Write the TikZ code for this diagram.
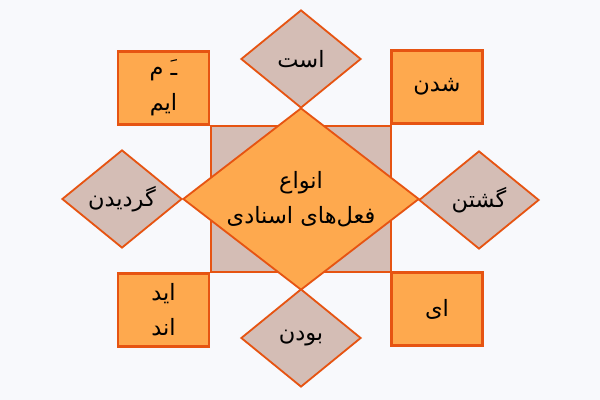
\documentclass[tikz,border=0pt]{standalone}
\usepackage{fontspec}
\newfontfamily\farsi[Script=Arabic]{DejaVu Sans}
\TeXXeTstate=1
\usetikzlibrary{shapes.geometric}

\definecolor{boxfill}{RGB}{254,169,78}
\definecolor{edge}{RGB}{230,84,18}
\definecolor{taupe}{RGB}{212,189,181}
\definecolor{paper}{RGB}{248,249,252}

\begin{document}
\begin{tikzpicture}[x=0.025cm,y=-0.025cm,
	font=\farsi\fontsize{16}{25}\selectfont,
	box/.style={draw=edge,fill=boxfill,line width=1.6pt,minimum width=2.275cm,minimum height=1.825cm,inner sep=0pt,align=center},
	smalldiamond/.style={diamond,draw=edge,fill=taupe,line width=1.3pt,minimum width=3cm,minimum height=2.45cm,aspect=1.22,inner sep=0pt,align=center},
	bigdiamond/.style={diamond,draw=edge,fill=boxfill,line width=1.3pt,minimum width=5.9cm,minimum height=4.55cm,aspect=1.3,inner sep=0pt,align=center}]
	
	\def\cx{301};
	\def\cy{199};
	
	% paper
	\fill[paper] (0,0) rectangle (600,400);
	
	% square behind the middle
	\node[draw=edge,fill=taupe,line width=1.6pt,minimum width=4.5cm,minimum height=3.65cm,inner sep=0pt] (core) at (\cx,\cy) {};
	
	% corner boxes
	\node[box] (am) at (163.5,88) {\beginR ـَ م\endR\\\beginR ایم\endR};
	\node[box] (shodan) at (437,87) {\beginR شدن\endR};
	\node[box] (id) at (163.5,310) {\beginR اید\endR\\\beginR اند\endR};
	\node[box] (i) at (437,309) {\beginR ای\endR};
	
	% diamonds round the middle
	\node[smalldiamond] (ast) at (\cx,59) {\beginR است\endR};
	\node[smalldiamond] (gardidan) at (122,199) {\beginR گردیدن\endR};
	\node[smalldiamond] (gashtan) at (479,200) {\beginR گشتن\endR};
	
	\node[bigdiamond] (anva) at (\cx,\cy) {\beginR انواع\endR\\\beginR فعل^^^^200cهای اسنادی\endR};
	
	\node[smalldiamond] (budan) at (\cx,338) {\beginR بودن\endR};
	
\end{tikzpicture}
\end{document}
